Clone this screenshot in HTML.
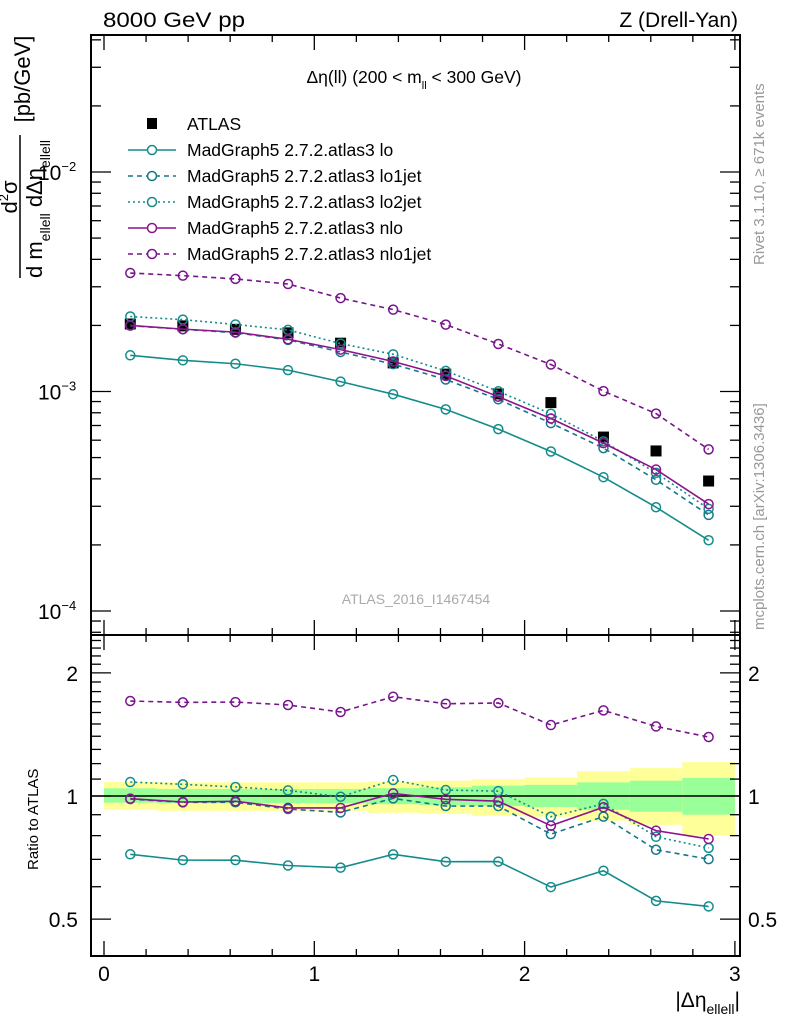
<!DOCTYPE html>
<html><head><meta charset="utf-8">
<style>
html,body{margin:0;padding:0;background:#fff;}
svg{display:block;font-family:"Liberation Sans",sans-serif;}
</style></head>
<body>
<svg id="chart" width="786" height="1024" viewBox="0 0 786 1024" xmlns="http://www.w3.org/2000/svg">
<text x="103" y="27" font-size="21" textLength="142" lengthAdjust="spacingAndGlyphs">8000 GeV pp</text>
<text x="738" y="27" font-size="21" text-anchor="end">Z (Drell-Yan)</text>
<text x="414" y="83" font-size="17.5" text-anchor="middle">Δη(ll) (200 &lt; m<tspan font-size="11" dy="6">ll</tspan><tspan dy="-6"> &lt; 300 GeV)</tspan></text>
<text transform="translate(764,265) rotate(-90)" font-size="15" fill="#999">Rivet 3.1.10, ≥ 671k events</text>
<text transform="translate(764,630) rotate(-90)" font-size="15" fill="#999">mcplots.cern.ch [arXiv:1306.3436]</text>
<text x="416" y="604" font-size="14" fill="#aaa" text-anchor="middle">ATLAS_2016_I1467454</text>
<g>
 <text transform="translate(17,197) rotate(-90)" font-size="22" text-anchor="middle">d<tspan font-size="13" dy="-9">2</tspan><tspan dy="9">σ</tspan></text>
 <line x1="20" y1="135" x2="20" y2="278" stroke="#000" stroke-width="1.5"/>
 <text transform="translate(42,278) rotate(-90)" font-size="22">d m<tspan font-size="14" dy="8">ellell</tspan><tspan dy="-8"> dΔη</tspan><tspan font-size="14" dy="8">ellell</tspan></text>
 <text transform="translate(30,79) rotate(-90)" font-size="22" text-anchor="middle">[pb/GeV]</text>
</g>
<text transform="translate(38,870) rotate(-90)" font-size="15">Ratio to ATLAS</text>
<text x="740" y="1007" font-size="21" text-anchor="end">|Δη<tspan font-size="14" dy="7">ellell</tspan><tspan dy="-7">|</tspan></text>
<g id="plots"></g>
</svg>
<script>
const xCenters=[0.125,0.375,0.625,0.875,1.125,1.375,1.625,1.875,2.125,2.375,2.625,2.875];
const atlas=[2.03e-3,1.99e-3,1.92e-3,1.85e-3,1.66e-3,1.35e-3,1.20e-3,0.975e-3,0.89e-3,0.62e-3,0.536e-3,0.391e-3];
const lo=[1.462e-3,1.387e-3,1.338e-3,1.251e-3,1.109e-3,0.972e-3,0.829e-3,0.674e-3,0.533e-3,0.407e-3,0.297e-3,0.210e-3];
const lo1jet=[1.995e-3,1.920e-3,1.853e-3,1.719e-3,1.514e-3,1.332e-3,1.134e-3,0.921e-3,0.718e-3,0.552e-3,0.396e-3,0.274e-3];
const lo2jet=[2.196e-3,2.125e-3,2.020e-3,1.909e-3,1.653e-3,1.477e-3,1.241e-3,1.002e-3,0.792e-3,0.593e-3,0.426e-3,0.292e-3];
const nlo=[2.000e-3,1.924e-3,1.864e-3,1.730e-3,1.552e-3,1.370e-3,1.178e-3,0.947e-3,0.753e-3,0.582e-3,0.441e-3,0.307e-3];
const nlo1jet=[3.465e-3,3.371e-3,3.258e-3,3.088e-3,2.664e-3,2.361e-3,2.017e-3,1.646e-3,1.327e-3,1.004e-3,0.793e-3,0.545e-3];
const binEdges=[0,0.25,0.5,0.75,1,1.25,1.5,1.75,2,2.25,2.5,2.75,3];
const yellowHi=[1.082,1.08,1.08,1.08,1.08,1.085,1.09,1.10,1.11,1.15,1.17,1.21];
const yellowLo=[0.925,0.92,0.92,0.92,0.92,0.91,0.905,0.895,0.89,0.87,0.85,0.80];
const greenHi=[1.044,1.04,1.04,1.04,1.04,1.045,1.05,1.06,1.065,1.08,1.09,1.107];
const greenLo=[0.963,0.96,0.96,0.96,0.96,0.955,0.95,0.945,0.94,0.925,0.915,0.90];
const xTicks=[0,1,2,3];
const ratioTicks=[0.5,1,2];

const NS='http://www.w3.org/2000/svg';
const root=document.getElementById('plots');
const L=91,R=740,T=35,MID=635,B=956;
const X=v=>104+210.3*v;
const YM=v=>172-219.5*(Math.log10(v)+2);
const YR=v=>796-409*Math.log10(v);
function mk(tag,attrs,parent){const e=document.createElementNS(NS,tag);for(const k in attrs)e.setAttribute(k,attrs[k]);(parent||root).appendChild(e);return e;}

const bands=mk('g',{});


for(let i=0;i<xCenters.length;i++){
 const x0=X(binEdges[i]),x1=X(binEdges[i+1]);
 const y=mk('rect',{x:x0,y:YR(yellowHi[i]),width:x1-x0,height:YR(yellowLo[i])-YR(yellowHi[i]),fill:'#ffff99'},bands);
 
 
 const g=mk('rect',{x:x0,y:YR(greenHi[i]),width:x1-x0,height:YR(greenLo[i])-YR(greenHi[i]),fill:'#99ff99'},bands);
 
 
}
mk('line',{x1:L,x2:R,y1:YR(1),y2:YR(1),stroke:'#000','stroke-width':1.5});

const fr=mk('g',{fill:'none',stroke:'#000','stroke-width':2});


mk('rect',{x:L,y:T,width:R-L,height:MID-T},fr);
mk('rect',{x:L,y:MID,width:R-L,height:B-MID},fr);

const tk=mk('g',{stroke:'#000','stroke-width':1.3});
for(let v=0;v<=3.001;v+=0.2){
 const major=Math.abs(v-Math.round(v))<1e-6;const len=major?15:7;const x=X(v);
 [[T,1],[MID,-1],[MID,1],[B,-1]].forEach(([y0,d])=>mk('line',{x1:x,x2:x,y1:y0,y2:y0+d*len},tk));
}
for(let e=-5;e<=-1;e++)for(let m=1;m<=9;m++){
 const v=m*Math.pow(10,e);const y=YM(v);if(y<T||y>MID)continue;
 const len=m===1?20:10;
 mk('line',{x1:L,x2:L+len,y1:y,y2:y},tk);mk('line',{x1:R,x2:R-len,y1:y,y2:y},tk);
}
for(let v=0.5;v<=2.5;v+=0.1){
 const y=YR(v);if(y<MID||y>B)continue;
 const major=ratioTicks.some(t=>Math.abs(t-v)<1e-6);const len=major?20:10;
 mk('line',{x1:L,x2:L+len,y1:y,y2:y},tk);mk('line',{x1:R,x2:R-len,y1:y,y2:y},tk);
}
xTicks.forEach(v=>{const t=mk('text',{x:X(v),y:981,'font-size':21,'text-anchor':'middle'});t.textContent=v;
 
 });
ratioTicks.forEach(v=>{[[78,'end'],[748,'start']].forEach(([x,a])=>{const t=mk('text',{x:x,y:YR(v)+8,'font-size':21,'text-anchor':a});t.textContent=v;
 
 });});
[-2,-3,-4].forEach(e=>{const t=mk('text',{x:38,y:YM(Math.pow(10,e))+8,'font-size':21});t.textContent='10';
 
 
 const s=mk('tspan',{'font-size':13,dy:-9});s.textContent='−'+(-e);t.appendChild(s);});

const series=[
 {name:'lo',vals:lo,color:'#148c8c',dash:''},
 {name:'lo1jet',vals:lo1jet,color:'#14788c',dash:'5,4'},
 {name:'lo2jet',vals:lo2jet,color:'#148c8c',dash:'2,3'},
 {name:'nlo',vals:nlo,color:'#8c148c',dash:''},
 {name:'nlo1jet',vals:nlo1jet,color:'#78148c',dash:'5,4'}
];
function drawSeries(s,Yf,vals,tag){
 const g=mk('g',{});
 
 
 const pts=vals.map((v,i)=>X(xCenters[i])+','+Yf(v)).join(' ');
 mk('polyline',{points:pts,fill:'none',stroke:s.color,'stroke-width':1.6,'stroke-dasharray':s.dash},g);
 vals.forEach((v,i)=>{const c=mk('circle',{cx:X(xCenters[i]),cy:Yf(v),r:4.5,fill:'none',stroke:s.color,'stroke-width':1.5},g);
  
  });
}
const ag=mk('g',{});


atlas.forEach((v,i)=>{const r=mk('rect',{x:X(xCenters[i])-5.5,y:YM(v)-5.5,width:11,height:11,fill:'#000'},ag);
 
 });
series.forEach(s=>{
 drawSeries(s,YM,s.vals,'main');
 drawSeries(s,YR,s.vals.map((v,i)=>v/atlas[i]),'ratio');
});

const lg=mk('g',{});


const lx=128,ly=124,dy=26;
mk('rect',{x:147,y:ly-6,width:10,height:11,fill:'#000'},lg);
let t0=mk('text',{x:187,y:ly+6,'font-size':17.5},lg);t0.textContent='ATLAS';
series.forEach((s,i)=>{const y=ly+dy*(i+1);
 mk('line',{x1:lx,x2:lx+48,y1:y,y2:y,stroke:s.color,'stroke-width':1.6,'stroke-dasharray':s.dash},lg);
 mk('circle',{cx:lx+24,cy:y,r:4.5,fill:'#fff',stroke:s.color,'stroke-width':1.5},lg);
 const t=mk('text',{x:187,y:y+6,'font-size':17.5},lg);t.textContent='MadGraph5 2.7.2.atlas3 '+s.name;
 
 
});
</script>
</body></html>
